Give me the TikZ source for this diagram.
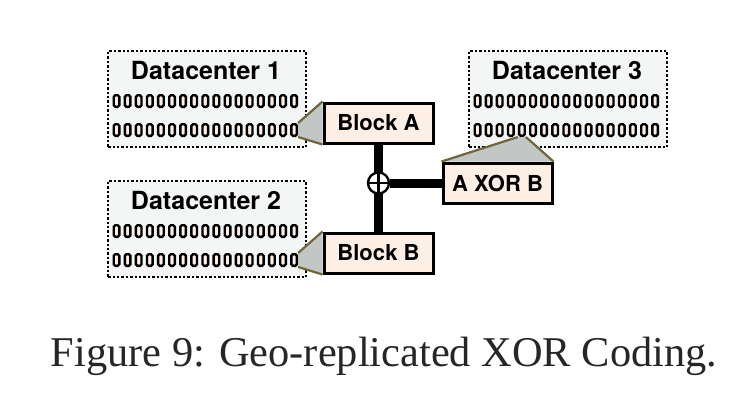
\documentclass[tikz,border=0pt]{standalone}
\usepackage{fontspec}
\setmainfont{Liberation Serif}
\newfontfamily\heros{TeX Gyre Heros}
\usepackage{xcolor}
\usepackage{tikz}
\definecolor{dcgray}{HTML}{F4F6F6}
\definecolor{peach}{HTML}{FDEFE4}
\definecolor{wedgegray}{HTML}{C2C6C4}
\definecolor{edgeolive}{HTML}{6E6638}
\tikzset{
dcbox/.style={
  rectangle,
  draw,
  fill=dcgray,
  line width=1.2pt,
  dash pattern=on 1.2pt off 1pt,
  minimum width=99pt,
  minimum height=48pt,
  inner sep=0pt,
  anchor=north west
},
cell/.style={
  rectangle,
  rounded corners=0.8pt,
  draw,
  fill=peach,
  line width=1.2pt,
  minimum width=2.8pt,
  minimum height=5.8pt,
  inner sep=0pt
},
title/.style={anchor=base,font=\heros\bfseries\fontsize{12.5}{15}\selectfont},
block/.style={
  rectangle,
  draw,
  fill=peach,
  line width=1.5pt,
  minimum width=54.5pt,
  minimum height=20pt,
  inner sep=0pt,
  font=\heros\bfseries\fontsize{11}{13}\selectfont
},
wedgefill/.style={fill=wedgegray},
wedgeline/.style={draw=edgeolive,line width=1.1pt},
bus/.style={line width=4.5pt},
xorsym/.style={
  circle,
  draw,
  fill=white,
  line width=1.2pt,
  minimum size=10.5pt,
  inner sep=0pt,
  path picture={
    \draw[line width=1.2pt]
      (path picture bounding box.north) -- (path picture bounding box.south)
      (path picture bounding box.west) -- (path picture bounding box.east);
  }
},
}

\begin{document}
\begin{tikzpicture}[x=0.5pt,y=-0.5pt]
\useasboundingbox (0,0) rectangle (752,404);
% the datacenters
\foreach \n/\x/\y in {1/107/50, 2/107/180, 3/468/50}
{
  \node[dcbox] (dc\n) at (\x,\y) {};
  \node[title] (dc\n-title) at (\x+99,\y+29) {Datacenter \n};
  \foreach \r/\dy in {1/51, 2/80}
  {
    \foreach \c in {1,...,17}
      \node[cell] (dc\n-\r-\c) at ({\x+9.5+11.1*(\c-1)},\y+\dy) {};
  }
}
% the blocks
\node[block] (blockA) at (378.5,123) {Block A};
\node[block] (blockB) at (378.5,253) {Block B};
\node[block] (axorb) at (497.5,183) {A XOR B};
% the wedges
\fill[wedgefill] (dc1-2-17.north east) -- (blockA.north west) -- (blockA.south west) -- (dc1-2-17.south east) -- cycle;
\draw[wedgeline] (dc1-2-17.north east) -- (blockA.north west) (dc1-2-17.south east) -- (blockA.south west);
\fill[wedgefill] (dc2-2-17.north east) -- (blockB.north west) -- (blockB.south west) -- (dc2-2-17.south east) -- cycle;
\draw[wedgeline] (dc2-2-17.north east) -- (blockB.north west) (dc2-2-17.south east) -- (blockB.south west);
\fill[wedgefill] (dc3-2-5.south west) -- (axorb.north west) -- (axorb.north east) -- (dc3-2-5.south east) -- cycle;
\draw[wedgeline] (dc3-2-5.south west) -- (axorb.north west) (dc3-2-5.south east) -- (axorb.north east);
% the xor
\draw[bus] (blockA) -- (blockB);
\node[xorsym] (xor) at (378.5,183) {};
\draw[bus] (xor) -- (axorb);
% the caption
\node[anchor=base,text=black!85,font=\fontsize{21.2}{25}\selectfont] (caption) at (384,366) {Figure 9: Geo-replicated XOR Coding.};
\end{tikzpicture}
\end{document}
